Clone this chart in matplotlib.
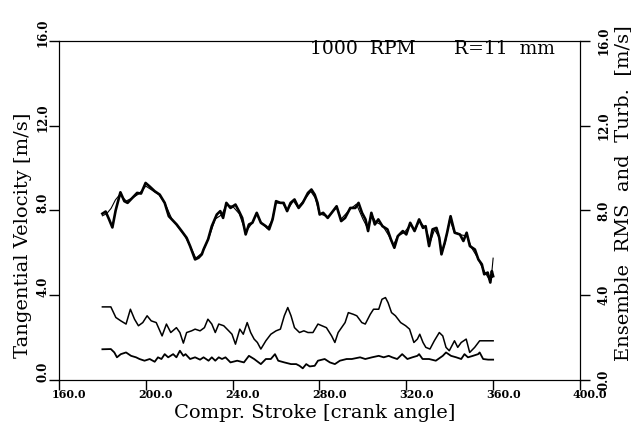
# In-cylinder LDV measurement, compression stroke
# tangential velocity (mean) plus ensemble RMS and turbulence

import matplotlib
matplotlib.use('Agg')
import matplotlib.pyplot as plt
from matplotlib.transforms import ScaledTranslation

# mean tangential velocity, thick trace
mean_angle = [180.0, 181.5, 183.0, 184.6, 186.1, 188.3, 190.1, 191.6, 193.1, 196.0,
              197.8, 199.9, 201.7, 204.1, 206.4, 208.7, 210.6, 214.2, 216.5, 218.8,
              220.4, 222.7, 224.3, 225.8, 226.6, 228.7, 230.4, 232.7, 234.3, 235.6,
              237.1, 239.0, 241.3, 242.9, 244.4, 246.0, 247.5, 249.1, 251.1, 253.0,
              255.3, 256.8, 258.4, 260.0, 262.0, 263.5, 265.1, 266.7, 268.5, 270.4,
              272.3, 274.7, 276.3, 277.8, 279.1, 280.1, 281.7, 283.8, 285.6, 287.9,
              290.0, 291.8, 294.2, 296.5, 298.0, 299.6, 301.2, 302.4, 303.9, 305.5,
              307.1, 309.0, 311.3, 312.9, 314.5, 316.1, 318.4, 320.0, 321.8, 323.8,
              325.9, 327.7, 328.9, 330.5, 332.1, 333.9, 335.2, 336.2, 337.7, 338.8,
              340.4, 342.3, 344.7, 346.3, 347.8, 349.3, 351.6, 353.2, 354.8, 355.9,
              357.5, 358.7, 359.4, 360.0]
mean_vel = [7.85, 7.95, 7.6, 7.2, 8.0, 8.86, 8.44, 8.36, 8.52, 8.83,
            8.8, 9.3, 9.14, 8.91, 8.75, 8.36, 7.73, 7.34, 7.03, 6.71,
            6.32, 5.69, 5.77, 5.93, 6.16, 6.64, 7.26, 7.81, 7.97, 7.65,
            8.36, 8.12, 8.28, 7.97, 7.65, 6.87, 7.34, 7.42, 7.89, 7.42,
            7.26, 7.11, 7.58, 8.44, 8.36, 8.36, 7.97, 8.36, 8.52, 8.12,
            8.36, 8.83, 8.99, 8.75, 8.36, 7.81, 7.89, 7.65, 7.89, 8.2,
            7.5, 7.65, 8.12, 8.12, 8.36, 7.89, 7.58, 7.03, 7.89, 7.34,
            7.58, 7.26, 7.11, 6.64, 6.24, 6.79, 7.03, 6.87, 7.42, 7.03,
            7.58, 7.18, 7.26, 6.32, 7.11, 7.18, 6.71, 5.93, 6.48, 6.95,
            7.73, 6.95, 6.87, 6.56, 6.95, 6.32, 6.16, 5.69, 5.46, 4.99,
            5.07, 4.6, 5.14, 4.9]

# thin overlay trace
thin_angle = [180, 182, 184, 186, 188, 191, 194, 197, 200, 203,
              206, 209, 212, 215, 218, 221, 223, 226, 229, 232,
              235, 237, 240, 243, 246, 249, 251, 253, 256, 258,
              260, 263, 265, 268, 270, 273, 276, 278, 280, 284,
              288, 290, 294, 297, 300, 302, 304, 306, 309, 312,
              314, 316, 319, 322, 324, 326, 329, 331, 333, 335,
              336.5, 338, 340, 342, 345, 348, 350, 353, 355, 357,
              358.5, 359.5, 360]
thin_vel = [7.75, 7.85, 8.1, 8.5, 8.75, 8.45, 8.6, 8.8, 9.15, 8.95,
            8.75, 8.3, 7.6, 7.2, 6.8, 6.2, 5.75, 6.0, 6.7, 7.6,
            7.8, 8.25, 8.2, 7.85, 7.0, 7.4, 7.85, 7.45, 7.15, 7.5,
            8.35, 8.35, 8.0, 8.45, 8.15, 8.5, 8.9, 8.6, 7.85, 7.7,
            8.15, 7.6, 8.05, 8.3, 7.6, 7.2, 7.8, 7.45, 7.3, 6.8,
            6.35, 6.8, 6.95, 7.35, 7.05, 7.5, 7.15, 6.5, 7.1, 6.75,
            6.05, 6.5, 7.6, 7.0, 6.85, 6.8, 6.25, 5.75, 5.3, 4.95,
            4.7, 5.2, 5.75]

# ensemble RMS
rms_angle = [180.0, 183.9, 186.2, 188.5, 190.9, 192.9, 194.8, 196.6, 198.6, 200.6,
             202.5, 204.8, 207.5, 209.5, 211.5, 214.1, 215.7, 217.3, 218.8, 221.1,
             222.7, 225.0, 227.0, 228.6, 230.4, 232.0, 233.6, 235.9, 238.2, 239.7,
             241.3, 243.3, 244.9, 246.7, 248.3, 249.9, 251.4, 253.0, 255.3, 257.6,
             260.0, 262.0, 263.8, 265.4, 266.9, 268.5, 270.8, 272.8, 274.7, 277.0,
             279.3, 283.2, 285.6, 287.1, 288.6, 291.8, 293.3, 295.6, 297.2, 299.5,
             301.1, 303.4, 304.9, 307.3, 308.8, 310.4, 311.6, 313.2, 315.0, 317.4,
             319.7, 321.5, 323.5, 325.1, 326.2, 327.7, 329.0, 330.9, 332.9, 335.2,
             336.8, 338.3, 339.8, 342.2, 343.7, 345.3, 347.6, 349.2, 351.5, 353.8,
             356.9, 360.0]
rms_vel = [3.45, 3.45, 2.95, 2.79, 2.64, 3.34, 2.87, 2.56, 2.71, 3.03,
           2.79, 2.71, 2.08, 2.64, 2.24, 2.47, 2.24, 1.74, 2.24, 2.32,
           2.4, 2.32, 2.47, 2.87, 2.64, 2.24, 2.64, 2.56, 2.32, 2.16,
           1.69, 2.4, 2.16, 2.71, 2.24, 1.93, 1.77, 1.46, 1.85, 2.16,
           2.32, 2.4, 3.03, 3.42, 3.03, 2.47, 2.24, 2.32, 2.24, 2.24,
           2.64, 2.47, 2.08, 1.77, 2.24, 2.71, 3.18, 3.1, 3.03, 2.71,
           2.64, 3.1, 3.34, 3.34, 3.81, 3.89, 3.65, 3.18, 3.03, 2.71,
           2.56, 2.4, 1.77, 1.93, 2.16, 1.77, 1.54, 1.46, 1.85, 2.24,
           2.08, 1.54, 1.38, 1.85, 1.54, 1.77, 1.93, 1.3, 1.54, 1.85,
           1.85, 1.85]

# turbulence
turb_angle = [180.0, 183.9, 185.5, 186.7, 188.5, 190.9, 193.2, 195.5, 197.1, 199.4,
              201.8, 204.1, 205.6, 207.2, 208.7, 210.3, 212.6, 214.1, 215.7, 217.3,
              218.3, 220.4, 222.7, 225.0, 226.6, 228.9, 230.4, 232.0, 233.6, 235.1,
              236.7, 239.0, 242.1, 245.2, 247.5, 249.9, 253.0, 255.3, 257.6, 259.5,
              261.0, 263.8, 266.9, 269.3, 270.8, 272.3, 273.9, 275.5, 277.8, 279.3,
              282.4, 284.8, 287.1, 289.4, 292.5, 294.9, 298.7, 301.1, 304.2, 307.3,
              309.6, 311.9, 313.5, 315.8, 318.1, 320.5, 322.8, 325.1, 325.9, 327.5,
              330.5, 333.6, 336.8, 338.3, 340.6, 343.0, 345.3, 346.8, 348.4, 350.7,
              353.1, 353.8, 355.4, 357.7, 360.0]
turb_vel = [1.45, 1.46, 1.3, 1.07, 1.22, 1.3, 1.14, 1.07, 0.99, 0.91,
            0.99, 0.86, 1.07, 0.99, 1.22, 1.07, 1.22, 1.07, 1.38, 1.14,
            1.22, 0.99, 1.07, 0.96, 1.07, 0.91, 1.07, 0.91, 1.07, 0.99,
            1.07, 0.83, 0.91, 0.83, 1.14, 0.99, 0.75, 0.99, 0.99, 1.22,
            0.91, 0.83, 0.75, 0.75, 0.67, 0.55, 0.75, 0.64, 0.67, 0.91,
            0.99, 0.83, 0.75, 0.91, 0.99, 0.99, 1.07, 0.99, 1.07, 1.14,
            1.07, 1.14, 1.07, 0.99, 1.22, 0.99, 1.07, 1.14, 1.22, 0.99,
            0.99, 0.91, 1.14, 1.3, 1.14, 1.07, 0.99, 1.22, 1.07, 1.14,
            1.22, 1.3, 0.99, 0.96, 0.96]

x_ticks = [160, 200, 240, 280, 320, 360, 400]
y_ticks = [0, 4, 8, 12, 16]

plt.rcParams['font.family'] = 'DejaVu Serif'

fig = plt.figure(figsize=(6.39, 4.32), dpi=100)
ax = fig.add_axes([0.0923, 0.1204, 0.8153, 0.7847])

ax.plot(mean_angle, mean_vel, color='black', lw=1.9)
ax.plot(thin_angle, thin_vel, color='black', lw=0.8)
ax.plot(rms_angle, rms_vel, color='black', lw=1.1)
ax.plot(turb_angle, turb_vel, color='black', lw=1.3)

ax.set_xlim(160, 400)
ax.set_ylim(0, 16)
ax.set_xticks(x_ticks)
ax.set_xticklabels([f'{t:.1f}' for t in x_ticks], fontsize=8, fontweight='bold')
ax.set_yticks(y_ticks)
ax.set_yticklabels([f'{t:.1f}' for t in y_ticks], fontsize=8.5, fontweight='bold',
                   rotation=90, va='center')
ax.tick_params(direction='out', length=7, width=1)
ax.tick_params(axis='x', pad=2)

# right axis, same scale
ax2 = ax.twinx()
ax2.set_ylim(0, 16)
ax2.set_yticks(y_ticks)
ax2.set_yticklabels([f'{t:.1f}' for t in y_ticks], fontsize=8.5, fontweight='bold',
                    rotation=90, va='center')
ax2.tick_params(direction='out', length=7, width=1)

# nudge tick labels like the original plotter output
for lab in ax.get_xticklabels():
    lab.set_transform(lab.get_transform() + ScaledTranslation(0.1, 0.03, fig.dpi_scale_trans))
for lab in ax.get_yticklabels():
    lab.set_transform(lab.get_transform() + ScaledTranslation(0.05, 0.08, fig.dpi_scale_trans))
for lab in ax2.get_yticklabels():
    lab.set_transform(lab.get_transform() + ScaledTranslation(0.03, 0, fig.dpi_scale_trans))

ax.set_xlabel('Compr. Stroke [crank angle]', fontsize=14)
ax.xaxis.set_label_coords(0.49, -0.072)
ax.set_ylabel('Tangential Velocity [m/s]', fontsize=14)
ax.yaxis.set_label_coords(-0.052, 0.428)
ax2.set_ylabel('Ensemble  RMS  and  Turb.  [m/s]', fontsize=14)
ax2.yaxis.set_label_coords(1.066, 0.55)

ax.text(275.5, 15.6, '1000  RPM', fontsize=13.5, ha='left', va='center')
ax.text(342, 15.6, 'R=11  mm', fontsize=13.5, ha='left', va='center')

plt.savefig('out.png', dpi=100)
